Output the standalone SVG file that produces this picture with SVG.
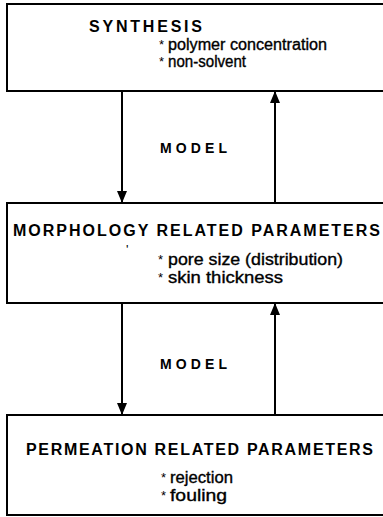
<svg xmlns="http://www.w3.org/2000/svg" width="383" height="517" viewBox="0 0 383 517">
<style>
.box{fill:#fff;stroke:#000;stroke-width:2}
.title{font-family:"Liberation Sans",Arial,sans-serif;font-weight:bold;font-size:16px;fill:#000}
.item{font-family:"Liberation Sans",Arial,sans-serif;font-size:16px;fill:#000;stroke:#000;stroke-width:0.35}
.star{font-family:"Liberation Sans",Arial,sans-serif;font-size:13px;fill:#000}
.model{font-family:"Liberation Sans",Arial,sans-serif;font-weight:bold;font-size:14px;fill:#000}
.conn{stroke:#000;stroke-width:2;fill:none}
</style>
<defs>
<marker id="ah" viewBox="0 0 12 10" refX="12" refY="5" markerWidth="12" markerHeight="10" markerUnits="userSpaceOnUse" orient="auto">
<path d="M0,0 L12,5 L0,10 Z" fill="#000"/>
</marker>
</defs>
<rect width="383" height="517" fill="#fff"/>
<g id="synthesis">
<rect class="box" x="7" y="4" width="385" height="87"/>
<text class="title" x="89" y="32" font-size="14" textLength="113" lengthAdjust="spacing">SYNTHESIS</text>
<text class="star" x="159" y="49">*</text>
<text class="item" x="168" y="50" textLength="159" lengthAdjust="spacingAndGlyphs">polymer concentration</text>
<text class="star" x="159" y="66">*</text>
<text class="item" x="168" y="67" textLength="78" lengthAdjust="spacingAndGlyphs">non-solvent</text>
</g>
<g id="morphology">
<rect class="box" x="7" y="203" width="385" height="100"/>
<text class="title" x="13" y="236" textLength="367" lengthAdjust="spacing">MORPHOLOGY RELATED PARAMETERS</text>
<text class="star" x="126" y="254" font-size="8">'</text>
<text class="star" x="158" y="264">*</text>
<text class="item" x="168" y="265" textLength="175" lengthAdjust="spacingAndGlyphs">pore size (distribution)</text>
<text class="star" x="158" y="282">*</text>
<text class="item" x="168" y="283" textLength="115" lengthAdjust="spacingAndGlyphs">skin thickness</text>
</g>
<g id="permeation">
<rect class="box" x="7" y="415" width="385" height="100"/>
<text class="title" x="26" y="455" textLength="347" lengthAdjust="spacing">PERMEATION RELATED PARAMETERS</text>
<text class="star" x="161" y="482">*</text>
<text class="item" x="170" y="483" textLength="63" lengthAdjust="spacingAndGlyphs">rejection</text>
<text class="star" x="161" y="500">*</text>
<text class="item" x="170" y="501" textLength="57" lengthAdjust="spacingAndGlyphs">fouling</text>
</g>
<g id="connectors">
<line class="conn" x1="122" y1="91" x2="122" y2="203" marker-end="url(#ah)"/>
<line class="conn" x1="275" y1="203" x2="275" y2="91" marker-end="url(#ah)"/>
<line class="conn" x1="122" y1="303" x2="122" y2="415" marker-end="url(#ah)"/>
<line class="conn" x1="275" y1="415" x2="275" y2="303" marker-end="url(#ah)"/>
<text class="model" x="160" y="153" textLength="67" lengthAdjust="spacing">MODEL</text>
<text class="model" x="160" y="369" textLength="67" lengthAdjust="spacing">MODEL</text>
</g>
</svg>
